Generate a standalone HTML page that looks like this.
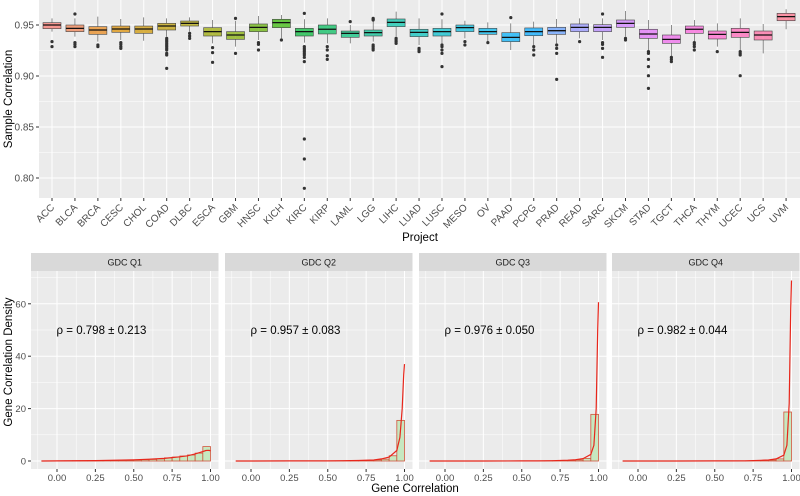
<!DOCTYPE html>
<html><head><meta charset="utf-8">
<style>
html,body{margin:0;padding:0;background:#fff;}
svg{display:block;font-family:"Liberation Sans",sans-serif;}
</style></head>
<body>
<svg id="fig" width="800" height="496" viewBox="0 0 800 496" xmlns="http://www.w3.org/2000/svg">
<g id="topPanel"></g>
<g id="bottomPanel"></g>
</svg>
<script>
// ---------- Top boxplot data ----------
const projects = ["ACC","BLCA","BRCA","CESC","CHOL","COAD","DLBC","ESCA","GBM","HNSC","KICH","KIRC","KIRP","LAML","LGG","LIHC","LUAD","LUSC","MESO","OV","PAAD","PCPG","PRAD","READ","SARC","SKCM","STAD","TGCT","THCA","THYM","UCEC","UCS","UVM"];
const whiskHi = [.9565,.9565,.9582,.9559,.9575,.9565,.9575,.9549,.9542,.9588,.9598,.9556,.9565,.95,.9542,.9631,.9565,.9556,.9542,.9526,.9516,.9533,.9559,.9565,.9565,.9637,.9549,.95,.9549,.9516,.9565,.951,.9654];
const q3 = [.9523,.95,.9484,.949,.949,.9516,.9539,.9474,.9435,.951,.9556,.9467,.95,.9441,.9451,.9559,.9458,.9467,.95,.9467,.9425,.9471,.9477,.951,.9503,.9549,.9458,.9402,.949,.9441,.9467,.9441,.9614];
const med = [.95,.9467,.9451,.9461,.9461,.949,.9516,.9435,.9402,.9477,.9523,.9435,.9458,.9418,.9425,.9526,.9428,.9435,.9474,.9435,.9379,.9435,.9444,.9477,.9477,.9516,.9412,.9359,.9458,.9408,.9428,.9402,.9582];
const q1 = [.9464,.9435,.9408,.9428,.9418,.9451,.949,.9392,.9359,.9435,.9474,.9392,.9412,.9379,.9392,.9484,.9386,.9392,.9435,.9408,.9337,.9395,.9408,.9435,.9435,.9477,.9369,.932,.9418,.9363,.9379,.9353,.9542];
const whiskLo = [.9435,.9386,.9337,.9353,.9346,.9386,.9435,.932,.9288,.9353,.9369,.9327,.932,.932,.9337,.9386,.9304,.932,.9369,.9337,.9255,.9304,.932,.9369,.9353,.9386,.9255,.919,.9337,.9288,.9255,.9222,.9458];
const outliers = [
 [.9337,.9288],[.9608,.9327,.931,.9288],[.9304,.9288],[.9327,.931,.9288,.9271],[],
 [.9369,.9353,.9337,.932,.9304,.9288,.9271,.9255,.9222,.9206,.9075],[.9418,.9392,.9369],
 [.9278,.9229,.9134],[.9565,.9222],[.9327,.931,.9255],[.9353],
 [.9614,.9288,.9271,.9255,.9239,.9222,.9206,.9183,.9141,.8382,.8186,.7899],
 [.9288,.9255,.9199,.9163],[.9533],[.9565,.9556,.9549,.9304,.9288,.9271,.9255],[.9369,.9353,.9337,.932],
 [.9271,.9255,.9239],[.9608,.9304,.9288,.9255,.9222,.9092],[.9337,.9304],[.9327],[.9572],
 [.9288,.9255,.9206],[.9304,.9271,.9222,.8967],[.9337],[.9608,.9327,.931,.9271,.9183],[.9369,.9353],
 [.9239,.9222,.9163,.9092,.9003,.8879],[.9183,.9163,.9141],[.9327,.931,.9288,.9255],[.9239],
 [.9239,.9222,.9206,.9003],[],[]
];
const yTicksTop = [0.80,0.85,0.90,0.95];
const yTickLabelsTop = ["0.80","0.85","0.90","0.95"];

// ---------- Bottom histogram data ----------
const facets = ["GDC Q1","GDC Q2","GDC Q3","GDC Q4"];
const rhoLabels = ["ρ = 0.798 ± 0.213","ρ = 0.957 ± 0.083","ρ = 0.976 ± 0.050","ρ = 0.982 ± 0.044"];
const binStarts = [-0.1,-0.05,0,0.05,0.1,0.15,0.2,0.25,0.3,0.35,0.4,0.45,0.5,0.55,0.6,0.65,0.7,0.75,0.8,0.85,0.9,0.95];
const histQ1 = [0.02,0.03,0.05,0.06,0.08,0.1,0.12,0.14,0.17,0.2,0.25,0.3,0.38,0.46,0.6,0.8,1.2,1.5,1.9,2.3,3.0,5.5];
const histQ2 = [0,0,0,0,0,0,0,0,0,0,0,0,0.02,0.03,0.05,0.1,0.15,0.25,0.4,0.7,2.0,15.5];
const histQ3 = [0,0,0,0,0,0,0,0,0,0,0,0,0.01,0.02,0.03,0.05,0.08,0.15,0.25,0.4,1.0,17.8];
const histQ4 = [0,0,0,0,0,0,0,0,0,0,0,0,0.01,0.01,0.02,0.04,0.06,0.12,0.2,0.35,0.8,18.7];
const densX = [-0.1,0,0.25,0.5,0.6,0.7,0.8,0.85,0.9,0.95,0.97,0.985,0.995,1.0];
const densQ1 = [0,0.05,0.15,0.45,0.7,1.0,1.6,2.0,2.7,3.6,4.0,4.1,4.0,3.8];
const densQ2 = [0,0.01,0.02,0.05,0.1,0.2,0.4,0.8,1.5,4,9,20,33,37];
const densQ3 = [0,0,0.01,0.03,0.05,0.1,0.3,0.5,0.9,2.5,6,20,50,60.6];
const densQ4 = [0,0,0.01,0.02,0.04,0.08,0.25,0.4,0.8,2.2,6,22,58,68.9];
const xTicksBot = [0,0.25,0.5,0.75,1.0];
const xTickLabelsBot = ["0.00","0.25","0.50","0.75","1.00"];
const yTicksBot = [0,20,40,60];
const hists = [histQ1,histQ2,histQ3,histQ4];
const dens = [densQ1,densQ2,densQ3,densQ4];

const NS="http://www.w3.org/2000/svg";
function mk(parent, tag, attrs, text){
  const e=document.createElementNS(NS,tag);
  for(const k in attrs) e.setAttribute(k,attrs[k]);
  if(text!==undefined) e.textContent=text;
  parent.appendChild(e); return e;
}
function hcl(h,c,l){
  const hr=h*Math.PI/180, u=c*Math.cos(hr), v=c*Math.sin(hr);
  const Y=l>8?Math.pow((l+16)/116,3):l/903.3;
  const un=0.19783, vn=0.46832;
  const up=u/(13*l)+un, vp=v/(13*l)+vn;
  const X=Y*9*up/(4*vp), Z=Y*(12-3*up-20*vp)/(4*vp);
  let r=3.2404542*X-1.5371385*Y-0.4985314*Z;
  let g=-0.9692660*X+1.8760108*Y+0.0415560*Z;
  let b=0.0556434*X-0.2040259*Y+1.0572252*Z;
  const gm=x=>{x=x<=0.0031308?12.92*x:1.055*Math.pow(x,1/2.4)-0.055;return Math.round(Math.max(0,Math.min(1,x))*255);};
  return `rgb(${gm(r)},${gm(g)},${gm(b)})`;
}

// ---------- TOP PANEL ----------
const topG=document.getElementById('topPanel');
const PL=39, PR=800, PT=0, PB=198;
const yTop = v => 25 + (0.95 - v)*1020;
const xCat = i => 52 + i*22.94;
const pbg=mk(topG,'rect',{x:PL,y:PT,width:PR-PL,height:PB-PT,fill:'#ebebeb'});


for(let t=0.775;t<=0.97;t+=0.05){ mk(topG,'line',{x1:PL,x2:PR,y1:yTop(t),y2:yTop(t),stroke:'#fff','stroke-width':0.5}); }
yTicksTop.forEach((t,k)=>{
  mk(topG,'line',{x1:PL,x2:PR,y1:yTop(t),y2:yTop(t),stroke:'#fff','stroke-width':1});
  mk(topG,'line',{x1:PL-3,x2:PL,y1:yTop(t),y2:yTop(t),stroke:'#333','stroke-width':1});
  const lb=mk(topG,'text',{x:PL-5,y:yTop(t)+3.5,'text-anchor':'end','font-size':10,fill:'#4d4d4d'},yTickLabelsTop[k]);
  
  
});
const nCat=projects.length;
projects.forEach((p,i)=>{
  const x=xCat(i);
  mk(topG,'line',{x1:x,x2:x,y1:PT,y2:PB,stroke:'#fff','stroke-width':1});
  mk(topG,'line',{x1:x,x2:x,y1:PB,y2:PB+3,stroke:'#333','stroke-width':1});
});
projects.forEach((p,i)=>{
  const x=xCat(i), w=18;
  const g=mk(topG,'g',{});
  
  
  mk(g,'line',{x1:x,x2:x,y1:yTop(whiskHi[i]),y2:yTop(q3[i]),stroke:'#444','stroke-width':0.6});
  mk(g,'line',{x1:x,x2:x,y1:yTop(q1[i]),y2:yTop(whiskLo[i]),stroke:'#444','stroke-width':0.6});
  mk(g,'rect',{x:x-w/2,y:yTop(q3[i]),width:w,height:yTop(q1[i])-yTop(q3[i]),fill:hcl(15+360*i/nCat,100,65),'fill-opacity':0.72,stroke:'#444','stroke-width':0.6});
  mk(g,'line',{x1:x-w/2,x2:x+w/2,y1:yTop(med[i]),y2:yTop(med[i]),stroke:'#111','stroke-width':1.3});
  outliers[i].forEach(o=>{ mk(g,'circle',{cx:x,cy:yTop(o),r:1.6,fill:'#333'}); });
  const lb=mk(topG,'text',{x:x+3,y:PB+10,'text-anchor':'end','font-size':10,fill:'#4d4d4d',transform:`rotate(-45 ${x+3} ${PB+10})`},p);
  
  
});
const xt=mk(topG,'text',{x:420,y:241,'text-anchor':'middle','font-size':11.5,fill:'#000'},'Project');


const yt=mk(topG,'text',{x:12,y:99,'text-anchor':'middle','font-size':11.5,fill:'#000',transform:'rotate(-90 12 99)'},'Sample Correlation');



// ---------- BOTTOM FACETS ----------
const botG=document.getElementById('bottomPanel');
const panelL=[31,225,419,612], PW=187.5, ST=253, SB=271, BT=271, BB=469;
const yB = v => 461 - v*2.62;
facets.forEach((f,k)=>{
  const L=panelL[k];
  const xB = v => L + 26 + v*153.5;
  const g=mk(botG,'g',{});
  
  
  mk(g,'rect',{x:L,y:ST,width:PW,height:SB-ST,fill:'#d9d9d9'});
  const st=mk(g,'text',{x:L+PW/2,y:265.5,'text-anchor':'middle','font-size':9,fill:'#1a1a1a'},f);
  
  
  mk(g,'rect',{x:L,y:BT,width:PW,height:BB-BT,fill:'#ebebeb'});
  [10,30,50,70].forEach(t=>mk(g,'line',{x1:L,x2:L+PW,y1:yB(t),y2:yB(t),stroke:'#fff','stroke-width':0.5}));
  [-0.125,0.125,0.375,0.625,0.875].forEach(t=>mk(g,'line',{x1:xB(t),x2:xB(t),y1:BT,y2:BB,stroke:'#fff','stroke-width':0.5}));
  yTicksBot.forEach(t=>mk(g,'line',{x1:L,x2:L+PW,y1:yB(t),y2:yB(t),stroke:'#fff','stroke-width':1}));
  xTicksBot.forEach((t,j)=>{
    mk(g,'line',{x1:xB(t),x2:xB(t),y1:BT,y2:BB,stroke:'#fff','stroke-width':1});
    mk(g,'line',{x1:xB(t),x2:xB(t),y1:BB,y2:BB+3,stroke:'#333','stroke-width':1});
    const lb=mk(g,'text',{x:xB(t),y:BB+12,'text-anchor':'middle','font-size':9.5,fill:'#4d4d4d'},xTickLabelsBot[j]);
    
    
  });
  if(k===0){
    yTicksBot.forEach(t=>{
      mk(g,'line',{x1:L-3,x2:L,y1:yB(t),y2:yB(t),stroke:'#333','stroke-width':1});
      const lb=mk(g,'text',{x:L-5,y:yB(t)+3.5,'text-anchor':'end','font-size':9.5,fill:'#4d4d4d'},String(t));
      
      
    });
  }
  const h=hists[k];
  binStarts.forEach((b,j)=>{
    if(h[j]<=0) return;
    const r=mk(g,'rect',{x:xB(b),y:yB(h[j]),width:xB(b+0.05)-xB(b),height:yB(0)-yB(h[j]),fill:'#c6e8c0',stroke:'#d0543c','stroke-width':0.8});
    
    
  });
  const d=dens[k];
  const pts=densX.map((x,j)=>xB(x).toFixed(1)+','+yB(d[j]).toFixed(1)).join(' ');
  const pl=mk(g,'polyline',{points:pts,fill:'none',stroke:'#e8261b','stroke-width':1.2});
  
  
  const rl=mk(g,'text',{x:xB(0.29),y:yB(50)+4,'text-anchor':'middle','font-size':11.5,fill:'#000'},rhoLabels[k]);
  
  
});
const bxt=mk(botG,'text',{x:415,y:492,'text-anchor':'middle','font-size':11.5,fill:'#000'},'Gene Correlation');


const byt=mk(botG,'text',{x:12,y:362,'text-anchor':'middle','font-size':11.5,fill:'#000',transform:'rotate(-90 12 362)'},'Gene Correlation Density');


</script>
</body></html>
